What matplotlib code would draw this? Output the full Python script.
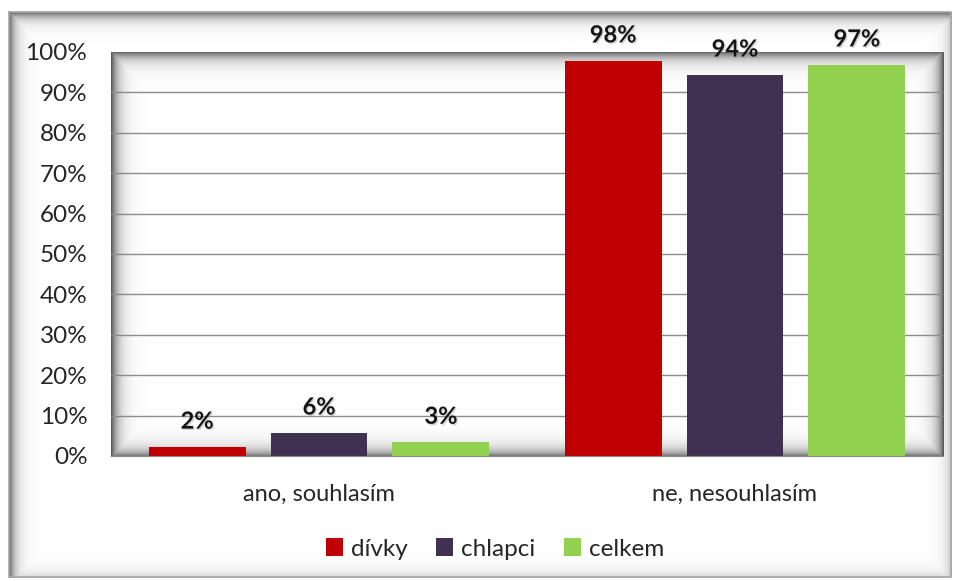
import numpy as np
import matplotlib
matplotlib.use("Agg")
import matplotlib.pyplot as plt
from matplotlib.patches import Patch
import matplotlib.patheffects as pe

categories = ["ano, souhlasím", "ne, nesouhlasím"]
series_names = ["dívky", "chlapci", "celkem"]
divky = [2.2, 97.8]
chlapci = [5.7, 94.3]
celkem = [3.4, 96.8]
colors = ["#C00000", "#403151", "#92D050"]

plt.rcParams['font.family'] = ['Lato', 'DejaVu Sans']

W, H = 960, 581
fig = plt.figure(figsize=(W / 100, H / 100), dpi=100)

# ---- background decoration (frame + inner shadows) ----
img = np.ones((H, W, 3))
yy, xx = np.mgrid[0:H, 0:W]

def inner_shadow(x0, y0, x1, y1, strength, scale, sides):
    inside = (xx >= x0) & (xx <= x1) & (yy >= y0) & (yy <= y1)
    dark = np.zeros((H, W))
    if 'l' in sides:
        dark = np.maximum(dark, sides['l'] * np.exp(-np.clip(xx - x0, 0, None) / scale))
    if 't' in sides:
        dark = np.maximum(dark, sides['t'] * np.exp(-np.clip(yy - y0, 0, None) / scale))
    if 'r' in sides:
        dark = np.maximum(dark, sides['r'] * np.exp(-np.clip(x1 - xx, 0, None) / scale))
    if 'b' in sides:
        dark = np.maximum(dark, sides['b'] * np.exp(-np.clip(y1 - yy, 0, None) / scale))
    val = 1 - strength * dark
    for c in range(3):
        img[..., c] = np.where(inside, np.minimum(img[..., c], val), img[..., c])

# outer frame
fx0, fy0, fx1, fy1 = 9, 12, 951, 577
inner_shadow(fx0, fy0, fx1, fy1, 0.6, 6.0, {'l': 1.0, 't': 1.0, 'r': 0.4, 'b': 0.3})
# plot area
px0, py0, px1, py1 = 111, 52, 943, 456
inner_shadow(px0, py0, px1, py1, 0.65, 7.0, {'l': 1.0, 't': 0.9, 'r': 1.0, 'b': 0.9})

bg = fig.add_axes([0, 0, 1, 1], zorder=-5)
bg.imshow(img, extent=(0, W, H, 0), aspect='auto', interpolation='bilinear')
bg.set_xlim(0, W)
bg.set_ylim(H, 0)
bg.axis('off')
bg.plot([fx0, fx1, fx1, fx0, fx0], [fy0, fy0, fy1, fy1, fy0], color='#A6A6A6', lw=1.2)

# ---- main axes ----
ax = fig.add_axes([px0 / W, 1 - py1 / H, (px1 - px0) / W, (py1 - py0) / H])
ax.set_facecolor('none')

x = np.arange(len(categories))
bw = 0.233
off = 0.293
series = [divky, chlapci, celkem]
for i, (vals, name, col) in enumerate(zip(series, series_names, colors)):
    bars = ax.bar(x + (i - 1) * off, vals, width=bw, color=col, zorder=3, label=name)
    for b, v in zip(bars, vals):
        ax.annotate(f"{round(v)}%", (b.get_x() + b.get_width() / 2, v),
                    xytext=(0, 26), textcoords='offset pixels',
                    ha='center', va='center', fontsize=17, fontweight='bold',
                    color='#141414', annotation_clip=False,
                    path_effects=[pe.withSimplePatchShadow(offset=(1.0, -1.0), shadow_rgbFace='#999999', alpha=0.4)])

ax.set_xlim(-0.5, 1.5)
ax.set_ylim(0, 100)
ax.set_yticks(np.arange(0, 101, 10))
ax.set_yticklabels([f"{t}%" for t in range(0, 101, 10)], fontsize=17.5, color='#262626')
ax.set_xticks(x)
ax.set_xticklabels(categories, fontsize=17, color='#262626')
ax.tick_params(axis='both', length=0)
ax.tick_params(axis='y', pad=17)
ax.tick_params(axis='x', pad=20)
for t in range(10, 100, 10):
    ax.axhline(t, color='#8C8C8C', lw=1.0, zorder=1)
for s in ['top', 'right', 'left']:
    ax.spines[s].set_visible(False)
ax.spines['bottom'].set_color('#8C8C8C')
ax.spines['bottom'].set_zorder(4)

handles = [Patch(facecolor=c, edgecolor='none', label=n) for c, n in zip(colors, series_names)]
fig.legend(handles=handles, loc='center', bbox_to_anchor=(495 / W, 1 - 549 / H), ncol=3,
           frameon=False, fontsize=17.5, handlelength=0.7, handleheight=0.7,
           handletextpad=0.3, columnspacing=1.2, labelcolor='#262626')

fig.savefig('out.png', dpi=100)
